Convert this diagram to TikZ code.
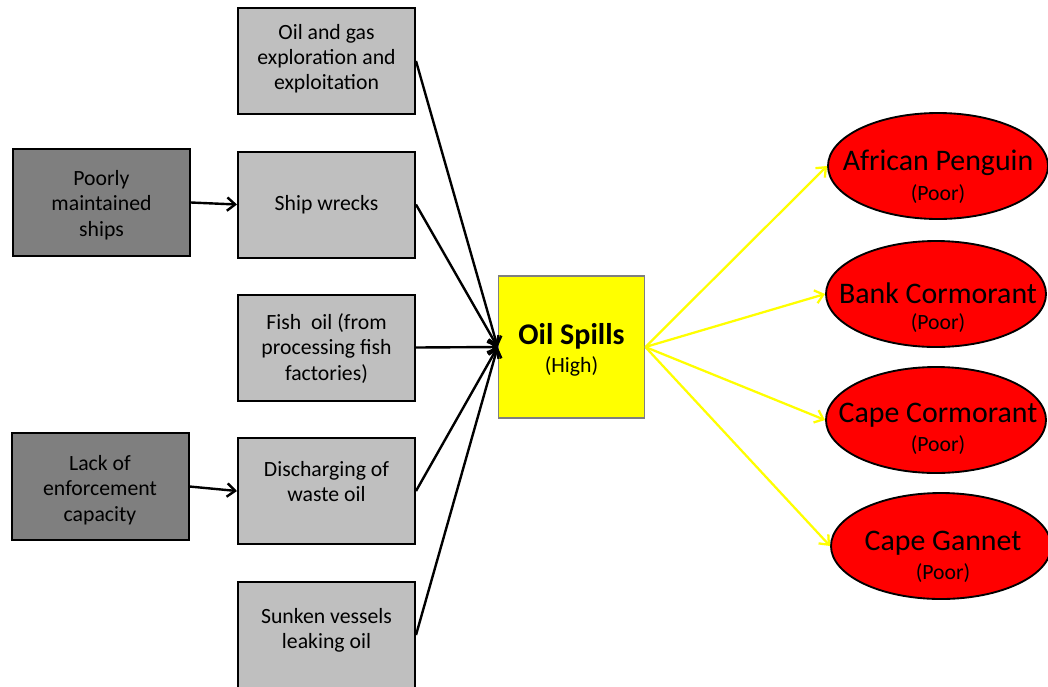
\documentclass[tikz,border=0pt]{standalone}
\usepackage{fontspec}
\setmainfont{Carlito}
\usetikzlibrary{shapes.geometric,arrows.meta,calc}
\definecolor{boxgray}{HTML}{BFBFBF}
\definecolor{darkgray}{HTML}{7F7F7F}
\definecolor{spillyellow}{HTML}{FFFF00}
\definecolor{birdred}{HTML}{FF0000}
\begin{document}
\begin{tikzpicture}[x=0.75pt,y=-0.75pt,
  causebox/.style={rectangle, draw=black, line width=1.5pt, fill=boxgray,
    minimum width=132.75pt, minimum height=79.5pt, inner sep=0pt,
    align=center, font=\fontsize{16.3}{18.75}\selectfont},
  rootbox/.style={causebox, fill=darkgray, minimum height=80pt},
  boxtext/.style={align=center, inner sep=0pt, font=\fontsize{16.3}{18.9}\selectfont},
  spillbox/.style={rectangle, draw=darkgray, line width=0.8pt, fill=spillyellow,
    minimum width=110pt, minimum height=106.5pt, inner sep=0pt},
  species/.style={ellipse, draw=black, line width=1.4pt, fill=birdred,
    minimum width=165pt, minimum height=79.5pt, inner sep=0pt},
  titletext/.style={inner sep=0pt, font=\fontsize{22.4}{26}\selectfont},
  subtext/.style={inner sep=0pt, font=\fontsize{16.3}{18}\selectfont},
  boldtitle/.style={inner sep=0pt, font=\fontsize{22.5}{26}\selectfont\bfseries},
  causeline/.style={draw=black, line width=1.8pt, -{Straight Barb[length=6pt,width=10pt]}},
  effectline/.style={draw=spillyellow, line width=1.7pt, -{Straight Barb[length=6pt,width=10pt]}}
]
\useasboundingbox (0,0) rectangle (1048,686);

% cause boxes
\node[causebox] (og) at (326.5,61) {};
\node[boxtext] (ogt) at (326.5,58.5) {Oil and gas\\exploration and\\exploitation};
\node[causebox] (sw) at (326.5,204.5) {Ship wrecks};
\node[causebox] (fo) at (326.5,347.5) {};
\node[boxtext] (fot) at (326.5,348.5) {Fish\ \ oil (from\\processing fish\\factories)};
\node[causebox] (dw) at (326.5,491) {};
\node[boxtext] (dwt) at (326.5,481.5) {Discharging of\\waste oil};
\node[causebox] (sv) at (326.5,635) {};
\node[boxtext] (svt) at (326.5,630.5) {Sunken vessels\\leaking oil};

% root causes
\node[rootbox] (pm) at (101.5,202.5) {};
\node[boxtext] (pmt) at (101.5,205) {Poorly\\maintained\\ships};
\node[rootbox] (le) at (100,486.5) {};
\node[boxtext] (let) at (100,490) {Lack of\\enforcement\\capacity};

% threat
\node[spillbox] (spill) at (571.5,347) {};
\node[boldtitle] (spt) at (571.5,336) {Oil Spills};
\node[subtext] (sph) at (571.5,366) {(High)};

% species
\node[species] (ap) at (938,166) {};
\node[titletext] (apt) at (938,163) {African Penguin};
\node[subtext] (aps) at (938,194) {(Poor)};
\node[species] (bc) at (936,294) {};
\node[titletext] (bct) at (938,293) {Bank Cormorant};
\node[subtext] (bcs) at (938,323) {(Poor)};
\node[species] (cc) at (936,420) {};
\node[titletext] (cct) at (938,415) {Cape Cormorant};
\node[subtext] (ccs) at (938,445) {(Poor)};
\node[species] (cg) at (941,546) {};
\node[titletext] (cgt) at (943,543) {Cape Gannet};
\node[subtext] (cgs) at (943,573) {(Poor)};

% connectors
\draw[causeline] (pm.east) -- (sw.west);
\draw[causeline] (le.east) -- (dw.west);
\foreach \src in {og,sw,fo,dw,sv}
  \draw[causeline] (\src.east) -- (spill.west);
\foreach \dst in {ap,bc,cc,cg}
  \draw[effectline] (spill.east) -- (\dst.west);
\end{tikzpicture}
\end{document}
